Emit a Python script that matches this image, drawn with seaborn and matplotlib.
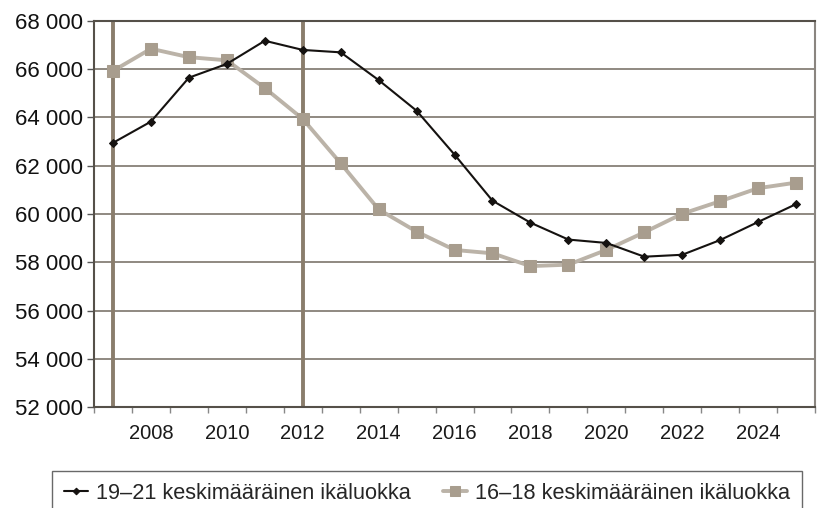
import numpy as np
import pandas as pd
import matplotlib.pyplot as plt
import seaborn as sns
from matplotlib.ticker import FuncFormatter, MultipleLocator

# Data
years = list(range(2007, 2026))
age_19_21 = [62950, 63830, 65650, 66220, 67180, 66800, 66700, 65550, 64280, 62460,
             60550, 59640, 58940, 58800, 58230, 58310, 58920, 59670, 60410]
age_16_18 = [65930, 66850, 66500, 66370, 65220, 63940, 62100, 60190, 59270, 58510,
             58370, 57840, 57900, 58510, 59240, 60010, 60530, 61070, 61300]
label_19_21 = "19–21 keskimääräinen ikäluokka"
label_16_18 = "16–18 keskimääräinen ikäluokka"
marker_years = [2007, 2012]

sns.set_style("white")
plt.rcParams['font.family'] = ['Liberation Sans', 'DejaVu Sans']

fig = plt.figure(figsize=(8.19, 5.08), dpi=100)
ax = fig.add_axes([0.1148, 0.1988, 0.8804, 0.7599])

grid_col = "#7d756c"
for y in range(54000, 68001, 2000):
    ax.axhline(y, color=grid_col, lw=1.2, zorder=0)

for yr in marker_years:
    ax.axvline(yr, color="#8a7d6c", lw=2.8, zorder=1)

df = pd.DataFrame({"year": years, "a": age_19_21, "b": age_16_18})
sns.lineplot(data=df, x="year", y="b", ax=ax, color="#bbb3a8", lw=2.8,
             marker="s", markersize=9, markerfacecolor="#a89d8e",
             markeredgecolor="#a89d8e", label=label_16_18, zorder=3)
sns.lineplot(data=df, x="year", y="a", ax=ax, color="#151210", lw=1.5,
             marker="D", markersize=4.5, markerfacecolor="#151210",
             markeredgecolor="#151210", label=label_19_21, zorder=4)

ax.set_xlim(2006.5, 2025.5)
ax.set_ylim(52000, 68000)
ax.set_xticks(list(range(2008, 2025, 2)))
ax.xaxis.set_minor_locator(MultipleLocator(1, offset=0.5))
ax.set_yticks(list(range(52000, 68001, 2000)))
ax.yaxis.set_major_formatter(FuncFormatter(lambda v, p: f"{int(v):,}".replace(",", " ")))
ax.tick_params(axis="x", which="major", length=0, pad=12, labelsize=14.5, colors="#1a1a1a")
ax.tick_params(axis="x", which="minor", length=4, width=1, color="#888888", bottom=True)
ax.tick_params(axis="y", length=5, width=1, color="#555555", labelsize=16, pad=3,
               left=True, labelcolor="#111111")
ax.set_xlabel("")
ax.set_ylabel("")
for side in ["left", "bottom", "top", "right"]:
    ax.spines[side].set_visible(True)
    ax.spines[side].set_color("#555049")
    ax.spines[side].set_linewidth(1.5)
ax.spines["right"].set_color("#8a8580")

handles, labels = ax.get_legend_handles_labels()
ax.get_legend().remove()
handles = handles[::-1]
labels = labels[::-1]
leg = fig.legend(handles, labels, loc="upper left", ncol=2,
                 bbox_to_anchor=(0.0635, 0.0728), borderaxespad=0, frameon=True,
                 fontsize=15.7, handlelength=1.1, handletextpad=0.35,
                 columnspacing=1.5, borderpad=0.55, fancybox=False)
leg.get_frame().set_edgecolor("#444444")
leg.get_frame().set_linewidth(1.0)
for h in leg.legend_handles:
    h.set_markersize(h.get_markersize() * 0.75)

fig.savefig("out.png", dpi=100)
